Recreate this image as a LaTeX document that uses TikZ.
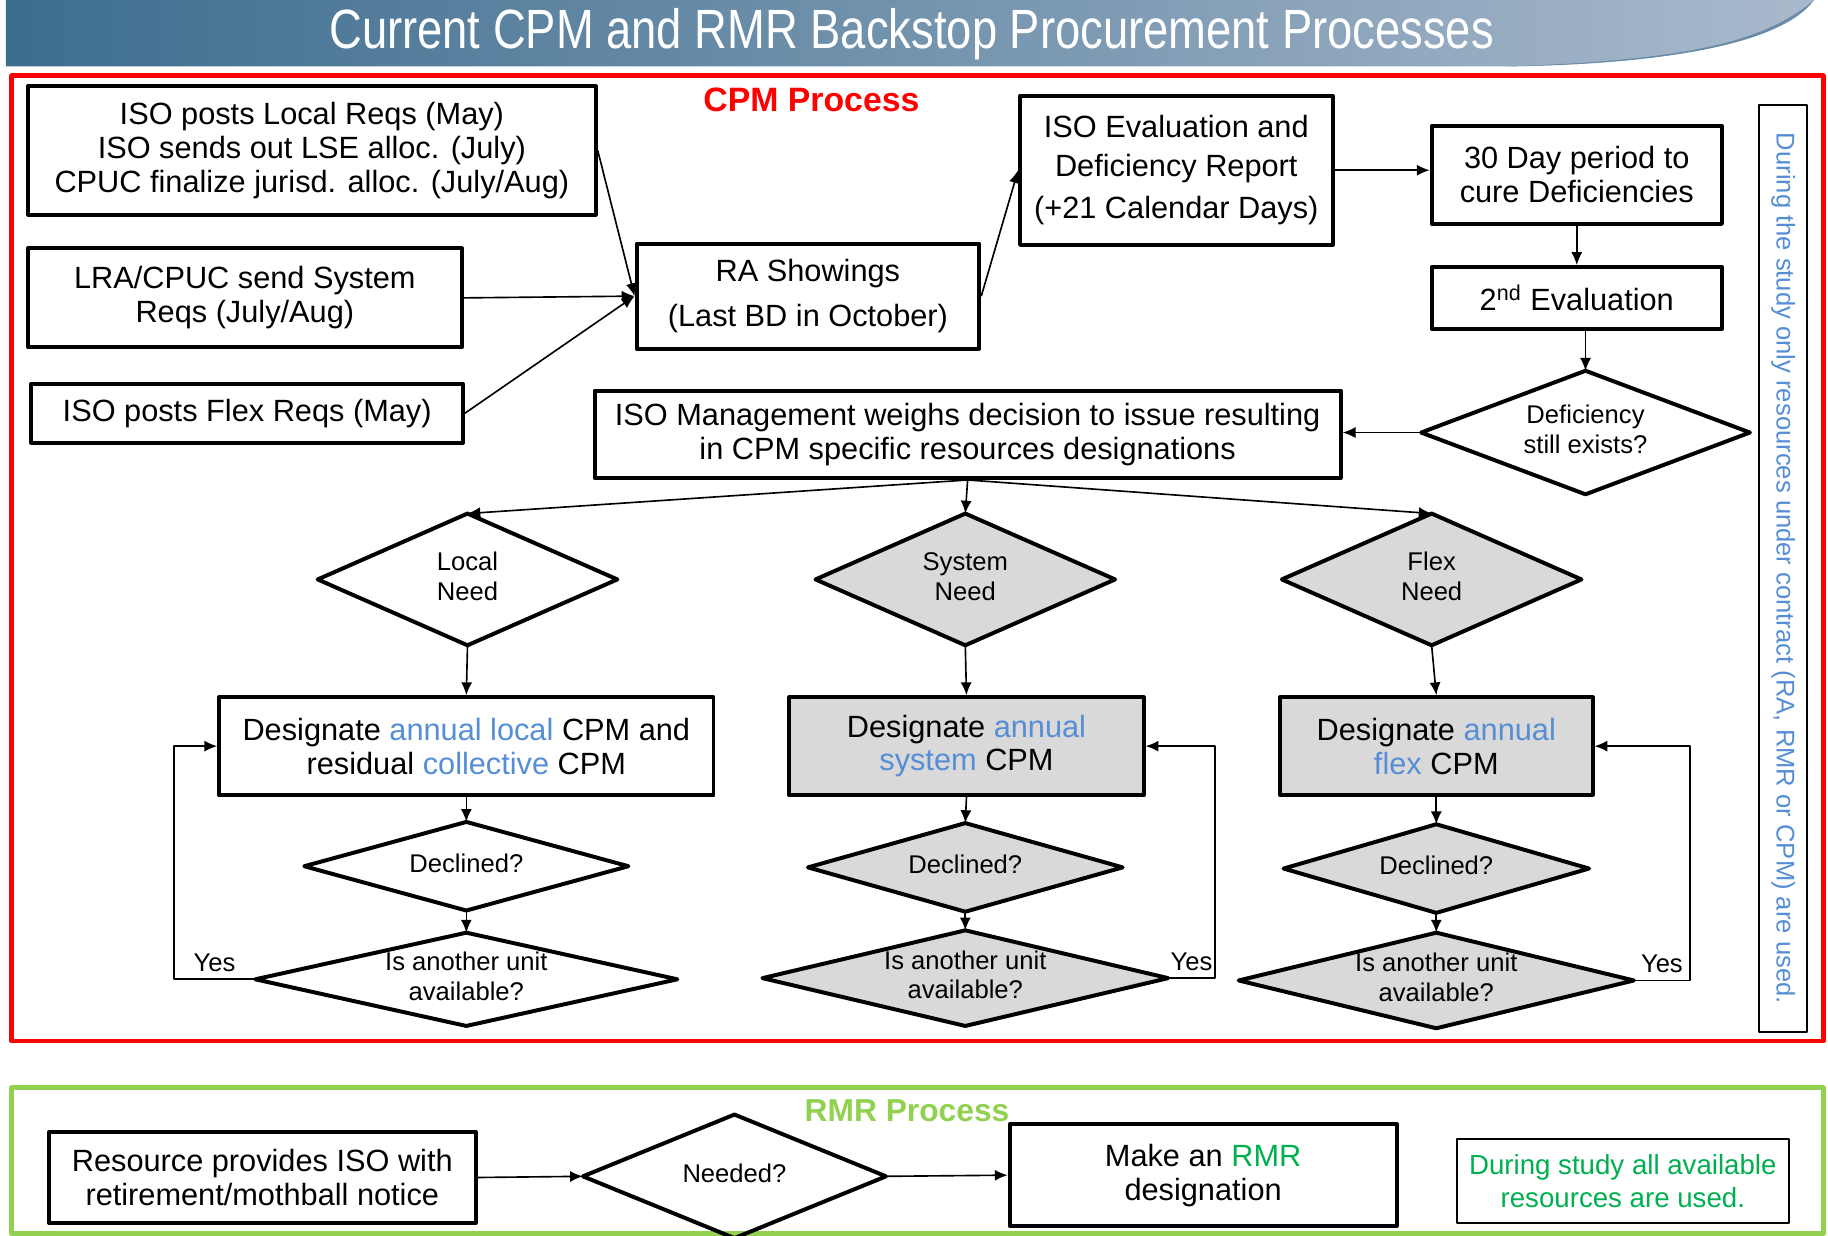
\documentclass[tikz,border=0pt]{standalone}
\usepackage{fontspec}
\setmainfont{Liberation Sans}
\newfontfamily\narrowfont{Liberation Sans}[FakeStretch=0.82]
\usetikzlibrary{shapes.geometric,arrows.meta}
\definecolor{cpmred}{HTML}{FF0000}
\definecolor{rmrgreen}{HTML}{92D050}
\definecolor{notegreen}{HTML}{00B050}
\definecolor{wordblue}{HTML}{558ED5}
\definecolor{needgray}{HTML}{D9D9D9}
\definecolor{bandleft}{HTML}{3D6D8E}
\definecolor{bandright}{HTML}{A9B9CC}
\newcommand{\bxfont}{\fontsize{15}{16.5}\selectfont}
\newcommand{\dmfont}{\fontsize{12.5}{14.5}\selectfont}
\newcommand{\dmtext}[1]{\makebox[0pt]{\begin{tabular}{@{}c@{}}#1\end{tabular}}}
\newcommand{\bw}[1]{\textcolor{wordblue}{#1}}
\begin{document}
\begin{tikzpicture}[x=0.2mm, y=-0.2mm, line join=round,
	box/.style={draw, line width=0.68mm, align=center, inner sep=0pt, font=\bxfont},
	gbox/.style={box, fill=needgray},
	decide/.style={diamond, draw, line width=0.68mm, inner sep=0pt, outer sep=0pt, font=\dmfont},
	gdecide/.style={decide, fill=needgray},
	arr/.style={-{Latex[length=2.2mm,width=1.9mm]}, line width=0.28mm}]
	
	\useasboundingbox (0,0) rectangle (1568,1060);
	\clip (0,0) rectangle (1568,1060);
	
	\shade[left color=bandleft, right color=bandright] (5,0) -- (1556,0) .. controls (1530,35) and (1440,55) .. (1290,57) -- (5,57) -- cycle;
	\fill[bandleft!60!bandright] (1556,0) .. controls (1530,35) and (1440,55) .. (1290,57) .. controls (1450,52) and (1515,35) .. (1556,0);
	\node[text=white, font=\narrowfont\fontsize{27}{30}\selectfont] (title) at (782,29) {Current CPM and RMR Backstop Procurement Processes};
	
	\draw[cpmred, line width=0.8mm] (10,65) rectangle (1564,893);
	\draw[rmrgreen, line width=0.8mm] (10,933) rectangle (1564,1058);
	
	\node[text=cpmred, font=\bfseries\fontsize{16.5}{18}\selectfont] (cpmlabel) at (696,86) {CPM Process};
	\node[text=rmrgreen, font=\bfseries\fontsize{15.5}{18}\selectfont] (rmrlabel) at (778,953) {RMR Process};
	
	\node[box, minimum width=97.4mm, minimum height=22mm] (locreq) at (267.5,129) {ISO posts Local Reqs (May)\\ISO sends out LSE alloc. (July)\\CPUC finalize jurisd. alloc. (July/Aug)};
	\node[box, minimum width=74.4mm, minimum height=17mm] (sysreq) at (210,255.5) {LRA/CPUC send System\\Reqs (July/Aug)};
	\node[box, minimum width=74mm, minimum height=10.2mm] (flexreq) at (212,354.5) {ISO posts Flex Reqs (May)};
	\node[box, minimum width=58.8mm, minimum height=18mm] (ra) at (693,254) {RA Showings\\[1.8mm](Last BD in October)};
	\node[box, minimum width=53.6mm, minimum height=25.6mm] (isoeval) at (1009,146) {ISO Evaluation and\\[0.8mm]Deficiency Report\\[1.4mm](+21 Calendar Days)};
	\node[box, minimum width=49.8mm, minimum height=16.8mm] (cure) at (1352.5,150) {30 Day period to\\cure Deficiencies};
	\node[box, minimum width=49.8mm, minimum height=10.6mm] (evaltwo) at (1352.5,255.5) {2\textsuperscript{nd} Evaluation};
	\node[decide, minimum width=56.4mm, minimum height=21.2mm] (defic) at (1360,371) {\dmtext{Deficiency\\still exists?}};
	\node[box, minimum width=128mm, minimum height=15mm] (mgmt) at (830,372.5) {ISO Management weighs decision to issue resulting\\in CPM specific resources designations};
	
	\node[decide, minimum width=51.4mm, minimum height=22.6mm] (localneed) at (401,497) {\dmtext{Local\\Need}};
	\node[gdecide, minimum width=51.4mm, minimum height=22.6mm] (sysneed) at (828,497) {\dmtext{System\\Need}};
	\node[gdecide, minimum width=51.4mm, minimum height=22.6mm] (flexneed) at (1228,497) {\dmtext{Flex\\Need}};
	
	\node[box, minimum width=84.8mm, minimum height=16.8mm] (desloc) at (400,640) {Designate \bw{annual local} CPM and\\residual \bw{collective} CPM};
	\node[gbox, minimum width=60.8mm, minimum height=16.8mm] (dessys) at (829,640) {Designate \bw{annual}\\\bw{system} CPM};
	\node[gbox, minimum width=53.6mm, minimum height=16.8mm] (desflex) at (1232,640) {Designate \bw{annual}\\\bw{flex} CPM};
	
	\node[decide, minimum width=55.6mm, minimum height=15.2mm] (decloc) at (400,743) {\dmtext{Declined?}};
	\node[gdecide, minimum width=54mm, minimum height=15.2mm] (decsys) at (828,744) {\dmtext{Declined?}};
	\node[gdecide, minimum width=52.4mm, minimum height=15.2mm] (decflex) at (1232,745) {\dmtext{Declined?}};
	
	\node[decide, minimum width=72.4mm, minimum height=16mm] (unitloc) at (400,840) {\dmtext{Is another unit\\available?}};
	\node[gdecide, minimum width=69.6mm, minimum height=16.4mm] (unitsys) at (828,839) {\dmtext{Is another unit\\available?}};
	\node[gdecide, minimum width=67.8mm, minimum height=16.4mm] (unitflex) at (1232,841) {\dmtext{Is another unit\\available?}};
	
	\node[draw, line width=0.3mm, rotate=-90, minimum width=159mm, minimum height=8.2mm, inner sep=0pt, text=wordblue, font=\fontsize{12.5}{14}\selectfont] (sidenote) at (1529.5,487.5) {During the study only resources under contract (RA, RMR or CPM) are used.};
	
	\node[box, minimum width=73.2mm, minimum height=15.6mm] (resource) at (225,1010) {Resource provides ISO with\\retirement/mothball notice};
	\node[decide, minimum width=52mm, minimum height=21.2mm] (needed) at (630,1009) {\dmtext{Needed?}};
	\node[box, minimum width=66.4mm, minimum height=17.4mm] (makermr) at (1032,1008) {Make an \textcolor{notegreen}{RMR}\\designation};
	\node[draw, line width=0.4mm, minimum width=57mm, minimum height=14.4mm, inner sep=0pt, align=center, text=notegreen, font=\fontsize{13.5}{16}\selectfont] (rmrnote) at (1392,1013) {During study all available\\resources are used.};
	
	\draw[arr] (locreq.east) -- (ra.west);
	\draw[arr] (sysreq.east) -- (ra.west);
	\draw[arr] (flexreq.east) -- (ra.west);
	\draw[arr] (ra.east) -- (isoeval.west);
	\draw[arr] (isoeval.east) -- (isoeval.east -| cure.west);
	\draw[arr] (cure.south) -- (evaltwo.north);
	\draw[arr] (evaltwo.south -| defic.north) -- (defic.north);
	\draw[arr] (defic.west) -- (defic.west -| mgmt.east);
	\draw[arr] (mgmt.south) -- (localneed.north);
	\draw[arr] (mgmt.south) -- (sysneed.north);
	\draw[arr] (mgmt.south) -- (flexneed.north);
	
	\draw[arr] (localneed.south) -- (desloc.north);
	\draw[arr] (sysneed.south) -- (dessys.north);
	\draw[arr] (flexneed.south) -- (desflex.north);
	\draw[arr] (desloc.south) -- (decloc.north);
	\draw[arr] (dessys.south) -- (decsys.north);
	\draw[arr] (desflex.south) -- (decflex.north);
	\draw[arr] (decloc.south) -- (unitloc.north);
	\draw[arr] (decsys.south) -- (unitsys.north);
	\draw[arr] (decflex.south) -- (unitflex.north);
	
	\draw[arr] (unitloc.west) -- ++(-70,0) node[midway, above, font=\dmfont] {Yes} |- (desloc.west);
	\draw[arr] (unitsys.east) -- ++(40,0) node[midway, above, font=\dmfont] {Yes} |- (dessys.east);
	\draw[arr] (unitflex.east) -- ++(48,0) node[midway, above, font=\dmfont] {Yes} |- (desflex.east);
	
	\draw[arr] (resource.east) -- (needed.west);
	\draw[arr] (needed.east) -- (makermr.west);
\end{tikzpicture}
\end{document}
